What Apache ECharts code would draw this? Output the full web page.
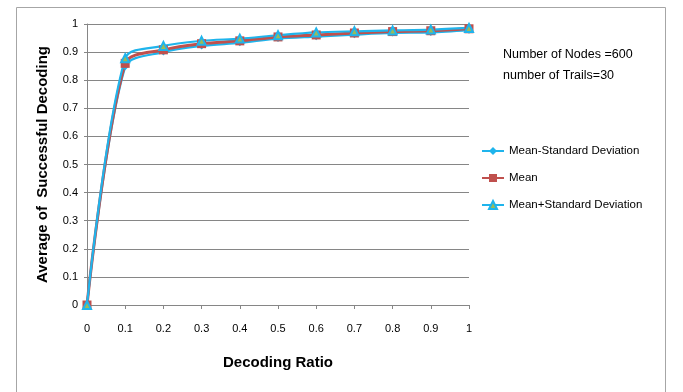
<!DOCTYPE html>
<html><head><meta charset="utf-8">
<script src="https://cdn.jsdelivr.net/npm/echarts@6/dist/echarts.min.js"></script>
<style>html,body{margin:0;padding:0;background:#fff}#c{width:683px;height:392px}</style>
</head><body><div id="c"></div>
<script>
const xValues = [0, 0.1, 0.2, 0.3, 0.4, 0.5, 0.6, 0.7, 0.8, 0.9, 1];
const meanMinusSD = [0, 0.848, 0.900, 0.922, 0.933, 0.948, 0.955, 0.962, 0.968, 0.970, 0.978];
const meanValues = [0, 0.860, 0.908, 0.930, 0.940, 0.954, 0.961, 0.968, 0.973, 0.976, 0.983];
const meanPlusSD = [0, 0.878, 0.922, 0.940, 0.948, 0.960, 0.970, 0.974, 0.977, 0.980, 0.986];
const seriesNames = ['Mean-Standard Deviation', 'Mean', 'Mean+Standard Deviation'];
const annotation = ['Number of Nodes =600', 'number of Trails=30'];

const pair = arr => xValues.map((x, i) => [x, arr[i]]);
const blue = '#1fb4ec', red = '#c0504d';
const font = '"Liberation Sans Narrow","Liberation Sans",Arial,sans-serif';

const chart = echarts.init(document.getElementById('c'), null, {renderer: 'canvas'});
chart.setOption({
  animation: false,
  backgroundColor: '#fff',
  graphic: [
    {type: 'rect', shape: {x: 16.5, y: 7.5, width: 649, height: 390}, style: {fill: 'none', stroke: '#a6a6a6', lineWidth: 1}},
    {type: 'text', left: 503, top: 44, style: {text: annotation.join('\n'), font: '12.5px ' + font, fill: '#000', lineHeight: 21}}
  ],
  grid: {left: 87, right: 214, top: 24, bottom: 87},
  legend: {
    orient: 'vertical', left: 476, top: 140, itemGap: 15, itemWidth: 22, itemHeight: 10,
    textStyle: {fontFamily: font, fontSize: 11.5, color: '#000'},
    data: seriesNames
  },
  xAxis: {
    type: 'value', min: 0, max: 1, interval: 0.1,
    name: 'Decoding Ratio', nameLocation: 'middle', nameGap: 50,
    nameTextStyle: {fontFamily: font, fontSize: 15, fontWeight: 'bold', color: '#000'},
    axisLine: {show: true, lineStyle: {color: '#868686'}},
    axisTick: {show: true, length: 4, lineStyle: {color: '#868686'}},
    axisLabel: {fontFamily: font, fontSize: 11, color: '#000', margin: 18, formatter: v => String(+v.toFixed(1))},
    splitLine: {show: false}
  },
  yAxis: {
    type: 'value', min: 0, max: 1, interval: 0.1,
    name: 'Average of  Successful Decoding', nameLocation: 'middle', nameGap: 37,
    nameTextStyle: {fontFamily: font, fontSize: 15, fontWeight: 'bold', color: '#000'},
    axisLine: {show: true, lineStyle: {color: '#868686'}},
    axisTick: {show: true, length: 3, lineStyle: {color: '#868686'}},
    axisLabel: {fontFamily: font, fontSize: 11, color: '#000', margin: 9, formatter: v => String(+v.toFixed(1))},
    splitLine: {show: true, lineStyle: {color: '#868686', width: 1}}
  },
  series: [
    {name: seriesNames[0], type: 'line', smooth: 0.3, data: pair(meanMinusSD),
     symbol: 'diamond', symbolSize: 7, lineStyle: {color: blue, width: 2.2},
     itemStyle: {color: blue}},
    {name: seriesNames[1], type: 'line', smooth: 0.3, data: pair(meanValues),
     symbol: 'rect', symbolSize: 9, lineStyle: {color: red, width: 3},
     itemStyle: {color: red}},
    {name: seriesNames[2], type: 'line', smooth: 0.3, data: pair(meanPlusSD),
     symbol: 'triangle', symbolSize: 8, lineStyle: {color: blue, width: 2.2},
     itemStyle: {color: '#9bbb59', borderColor: blue, borderWidth: 2}}
  ]
});
</script></body></html>
